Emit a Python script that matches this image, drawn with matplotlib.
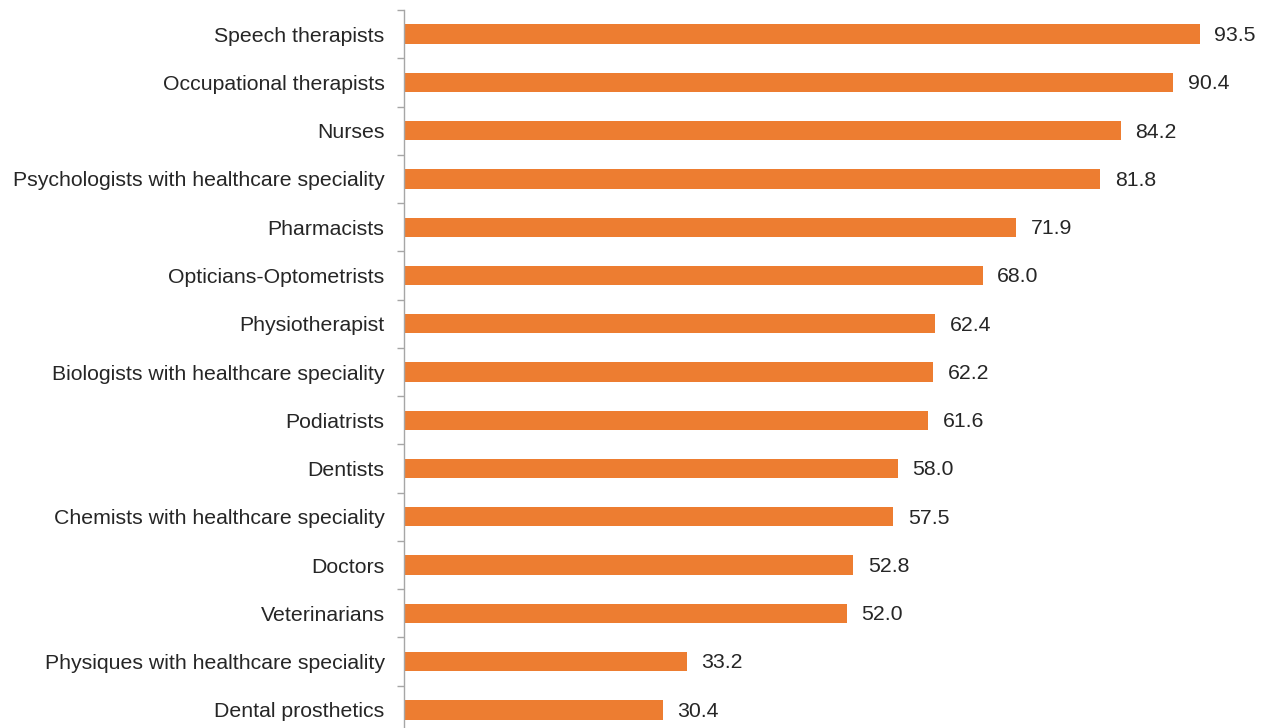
import numpy as np
import matplotlib
matplotlib.use("Agg")
import matplotlib.pyplot as plt

plt.rcParams['font.family'] = ['Liberation Sans', 'DejaVu Sans']

# Data (top to bottom as shown)
professions = [
    "Speech therapists",
    "Occupational therapists",
    "Nurses",
    "Psychologists with healthcare speciality",
    "Pharmacists",
    "Opticians-Optometrists",
    "Physiotherapist",
    "Biologists with healthcare speciality",
    "Podiatrists",
    "Dentists",
    "Chemists with healthcare speciality",
    "Doctors",
    "Veterinarians",
    "Physiques with healthcare speciality",
    "Dental prosthetics",
]
values = [93.5, 90.4, 84.2, 81.8, 71.9, 68.0, 62.4, 62.2, 61.6, 58.0, 57.5, 52.8, 52.0, 33.2, 30.4]

bar_color = "#ED7D31"
axis_color = "#A6A6A6"
text_color = "#262626"

fig = plt.figure(figsize=(12.67, 7.28), dpi=100)
# axes extends slightly past the bottom edge, as in the reference
ax = fig.add_axes([404 / 1267, -6 / 728, 851 / 1267, 724 / 728])

y = np.arange(len(professions))
ax.barh(y, values, height=0.4, color=bar_color)
ax.set_ylim(len(professions) - 0.5, -0.5)
ax.set_xlim(0, 100)

for yi, v in zip(y, values):
    ax.annotate(f"{v:.1f}", (v, yi), xytext=(10.5, -1), textcoords="offset points",
                va="center", ha="left", fontsize=15.3, color=text_color)

ax.set_yticks(y)
ax.set_yticklabels(professions, fontsize=15.3, color=text_color)
ax.tick_params(axis="y", which="major", length=0, pad=14)
ax.set_yticks(np.arange(len(professions) + 1) - 0.5, minor=True)
ax.tick_params(axis="y", which="minor", length=5, width=1, color=axis_color)

ax.set_xticks([])
for side in ["top", "right", "bottom"]:
    ax.spines[side].set_visible(False)
ax.spines["left"].set_color(axis_color)
ax.spines["left"].set_linewidth(1)

fig.savefig("out.png", dpi=100)
